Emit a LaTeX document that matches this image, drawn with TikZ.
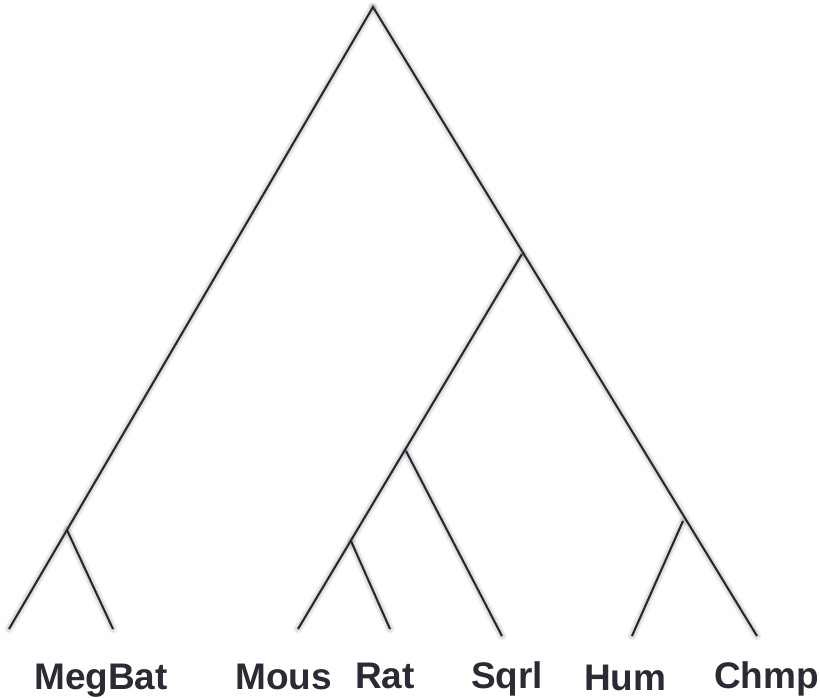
\documentclass[tikz,border=0pt]{standalone}
\usepackage{fontspec}
\newfontfamily\labelfont{Liberation Sans}
\definecolor{edgeink}{HTML}{262633}
\definecolor{labelink}{HTML}{2B2B36}
\begin{document}
\begin{tikzpicture}[x=1pt,y=-1pt,
  edge/.style={draw=edgeink,line width=2pt},
  haze/.style={draw=black,line cap=round,opacity=0.06},
  taxon/.style={anchor=base west,inner sep=0pt,text=labelink,
    font=\labelfont\bfseries\fontsize{37}{40}\selectfont}]
\useasboundingbox (0,0) rectangle (820,698);

% branching points and leaf tips
\coordinate (root) at (373,7);
\coordinate (batfork) at (67,530);
\coordinate (rodfork) at (522,254);
\coordinate (sqfork) at (406,451);
\coordinate (murfork) at (351,541);
\coordinate (homfork) at (683,521);
\coordinate (tMegBat) at (9,629);
\coordinate (tBat2) at (113,629);
\coordinate (tMous) at (298,629);
\coordinate (tRat) at (390,629);
\coordinate (tSqrl) at (502,636);
\coordinate (tHum) at (632,636);
\coordinate (tChmp) at (757,636);

% soft drop shadow under the branches
\foreach \w in {9,6,3.5}{
  \begin{scope}[shift={(3,4)}]
    \draw[haze,line width=\w pt] (root) -- (tMegBat);
    \draw[haze,line width=\w pt] (root) -- (tChmp);
    \draw[haze,line width=\w pt] (batfork) -- (tBat2);
    \draw[haze,line width=\w pt] (rodfork) -- (tMous);
    \draw[haze,line width=\w pt] (sqfork) -- (tSqrl);
    \draw[haze,line width=\w pt] (murfork) -- (tRat);
    \draw[haze,line width=\w pt] (homfork) -- (tHum);
  \end{scope}
}

% branches
\draw[edge] (tMegBat) -- (root) -- (tChmp);
\draw[edge] (batfork) -- (tBat2);
\draw[edge] (rodfork) -- (tMous);
\draw[edge] (sqfork) -- (tSqrl);
\draw[edge] (murfork) -- (tRat);
\draw[edge] (homfork) -- (tHum);

% taxon labels
\node[taxon] (lMegBat) at (34,689) {MegBat};
\node[taxon] (lMous) at (235,689) {Mous};
\node[taxon] (lRat) at (355,688) {Rat};
\node[taxon] (lSqrl) at (471,688) {Sqrl};
\node[taxon] (lHum) at (584,690) {Hum};
\node[taxon] (lChmp) at (714,688) {Chmp};
\end{tikzpicture}
\end{document}
